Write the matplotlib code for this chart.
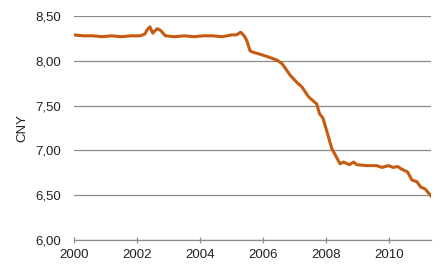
import matplotlib
matplotlib.use("Agg")
import matplotlib.pyplot as plt
from matplotlib.ticker import FuncFormatter

years = [2000.0, 2000.3, 2000.6, 2000.9, 2001.2, 2001.5, 2001.8, 2002.1, 2002.25,
         2002.33, 2002.41, 2002.5, 2002.58, 2002.65, 2002.75, 2002.9, 2003.2, 2003.5,
         2003.8, 2004.1, 2004.4, 2004.7, 2005.0, 2005.15, 2005.29, 2005.4, 2005.48,
         2005.59, 2005.7, 2005.85, 2006.12, 2006.43, 2006.6, 2006.86, 2007.07, 2007.23,
         2007.44, 2007.5, 2007.7, 2007.79, 2007.9, 2008.0, 2008.18, 2008.29, 2008.44,
         2008.55, 2008.74, 2008.87, 2008.97, 2009.3, 2009.6, 2009.77, 2009.98, 2010.12,
         2010.27, 2010.4, 2010.58, 2010.72, 2010.88, 2011.0, 2011.14, 2011.33]
cny = [8.29, 8.28, 8.28, 8.27, 8.28, 8.27, 8.28, 8.28, 8.30,
       8.35, 8.38, 8.31, 8.34, 8.36, 8.34, 8.28, 8.27, 8.28,
       8.27, 8.28, 8.28, 8.27, 8.29, 8.29, 8.32, 8.28, 8.23,
       8.11, 8.095, 8.08, 8.05, 8.01, 7.97, 7.84, 7.76, 7.71,
       7.60, 7.58, 7.52, 7.41, 7.36, 7.24, 7.02, 6.95, 6.85,
       6.87, 6.84, 6.87, 6.84, 6.83, 6.83, 6.81, 6.83, 6.81,
       6.82, 6.79, 6.76, 6.67, 6.65, 6.59, 6.57, 6.49]

x_ticks = [2000, 2002, 2004, 2006, 2008, 2010]
y_ticks = [6.0, 6.5, 7.0, 7.5, 8.0, 8.5]

plt.rcParams['font.family'] = ['Liberation Sans', 'DejaVu Sans']

fig = plt.figure(figsize=(4.48, 2.78), dpi=100)
ax = fig.add_axes([0.165, 0.137, 0.798, 0.805])

grid_c = '#8c8c8c'
ax.plot(years, cny, color='#C55A11', lw=2.2, solid_joinstyle='round', zorder=3)

ax.set_xlim(2000, 2011.34)
ax.set_ylim(6.0, 8.5)
ax.set_xticks(x_ticks)
ax.set_yticks(y_ticks)
ax.yaxis.set_major_formatter(FuncFormatter(lambda v, p: f"{v:.2f}".replace('.', ',')))
ax.grid(axis='y', color=grid_c, lw=0.9)
ax.set_axisbelow(True)
for s in ['top', 'right', 'left']:
    ax.spines[s].set_visible(False)
ax.spines['bottom'].set_color(grid_c)
ax.spines['bottom'].set_linewidth(0.9)
ax.tick_params(axis='y', length=0, pad=9, labelsize=9.5, colors='#222222')
ax.tick_params(axis='x', direction='inout', length=5, width=0.9, color=grid_c,
               pad=4, labelsize=9.5, labelcolor='#222222')
ax.set_ylabel('CNY', fontsize=9.5, color='#222222', labelpad=5)

fig.savefig('out.png', dpi=100)
